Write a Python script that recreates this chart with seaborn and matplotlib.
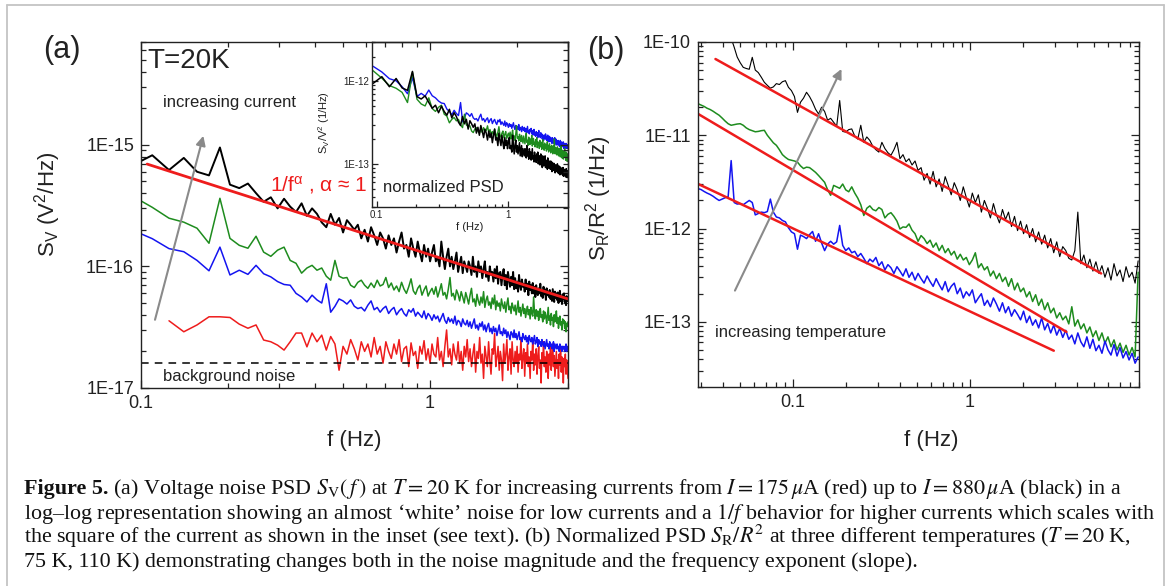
import numpy as np
import matplotlib
matplotlib.use("Agg")
import matplotlib.pyplot as plt
import matplotlib.ticker as mticker
from matplotlib.lines import Line2D
import seaborn as sns

W, H = 1167, 586

# ---------------- panel (a): S_V at T = 20 K
# FFT bins of 1/64 Hz, values in units of 1e-17 V^2/Hz
df_a = 1 / 64
k_first = 6        # first bin of black / green / blue
k_first_red = 8    # red trace starts two bins later

sv_black = [68, 82, 62, 78, 60, 56, 95, 47, 44, 48,
            40, 34, 37, 30, 36, 31, 28, 33, 26, 30,
            27, 23, 21, 27, 22, 25, 19, 24, 22, 20,
            22, 17, 20, 16, 21, 18, 15, 19, 17, 14,
            18, 15, 17, 13, 16, 19, 14, 15, 12, 17,
            14, 12, 16, 13, 11, 15, 12, 14, 11, 13,
            15, 11, 12, 10, 16, 12, 9.5, 12, 14, 10,
            12, 9.5, 11, 13, 9, 10.5, 12, 8.8, 11, 10,
            9, 11, 10, 8.5, 12, 9, 10, 8.2, 11, 9,
            10, 8, 9.5, 11, 8.2, 9, 7.6, 10, 8.5, 9,
            7.5, 9.5, 8, 10, 7.2, 8.8, 9, 7, 8.5, 9.5,
            7, 8.5, 6.5, 9, 7.8, 6.8, 8.2, 7, 9, 6.5,
            8, 6.6, 7.5, 6.2, 8.5, 7, 6.4, 7.8, 6.8, 7.2,
            6.2, 7.8, 6.5, 7.2, 5.8, 7.5, 6.4, 7, 6, 7.3,
            6, 6.8, 5.6, 7, 6.2, 5.8, 6.6, 6, 7.2, 5.7,
            6.3, 5.5, 6.8, 5.9, 6.4, 5.3, 6.6, 5.8, 6.2, 5.6,
            6.4, 5.4, 6, 5.2, 6.5, 5.7, 5.1, 6.2, 5.5, 6,
            5.3, 6.1, 5, 5.8, 6.3, 5.2, 5.6, 4.9, 5.9, 5.4,
            6, 5.1, 5.6, 4.8, 5.7, 5.2, 5.5]

sv_green = [37.7, 30.6, 24.9, 23.1, 20.6, 15.5, 36.3, 17, 14.9, 14.1,
            17.7, 13.1, 12.1, 13.6, 14.4, 11.2, 10.6, 8.8, 9.7, 10.2,
            9.3, 9.7, 8.3, 7.7, 11.2, 8.3, 8, 8.1, 7, 6.7,
            7.4, 7.7, 7, 6.6, 7.3, 6.7, 7.7, 6.9, 7.1, 8.1,
            6.7, 7.3, 6.4, 6.9, 6.2, 7.4, 6.5, 6, 6.8, 7.9,
            6.3, 5.9, 6.6, 7, 5.8, 6.4, 6.9, 5.7, 6.2, 6.6,
            5.9, 6.8, 5.6, 6.3, 7.2, 5.8, 6.1, 5.4, 6.5, 8.1,
            5.7, 6, 5.3, 6.4, 5.9, 5.2, 6.2, 5.6, 5, 6.1,
            5.5, 4.9, 5.8, 6.6, 5.1, 5.4, 4.7, 5.9, 5.2, 4.8,
            5.6, 5, 6.2, 4.6, 5.3, 5.7, 4.8, 5.1, 4.5, 5.5,
            4.9, 5.8, 4.4, 5.2, 4.7, 5, 4.3, 5.4, 4.8, 4.5,
            5.1, 4.2, 4.9, 5.5, 4.4, 4.7, 4.1, 5, 4.6, 4.3,
            4.8, 4, 4.5, 5.2, 4.2, 4.6, 3.9, 4.4, 4.9, 4.1,
            4.5, 3.8, 4.3, 4.7, 4, 4.4, 3.7, 4.6, 4.1, 3.9,
            5.6, 4.2, 3.7, 4.4, 3.9, 4.3, 3.6, 4.1, 4.5, 3.8,
            4, 3.5, 4.3, 3.7, 4.2, 3.9, 3.4, 4, 4.6, 3.6,
            3.9, 3.3, 4.1, 3.6, 3.8, 3.2, 4, 3.5, 3.7, 4.3,
            3.4, 3.8, 3.1, 3.6, 3.9, 3.3, 3.5, 3, 3.7, 3.4,
            3.6, 3.1, 3.5, 2.9, 3.4, 3.2, 3.5]

sv_blue = [19.8, 16.9, 14, 13.2, 11.2, 9.2, 14.4, 8.5, 9.3, 8.6,
           10.2, 8.7, 8.2, 7.5, 7.1, 7, 6, 5.6, 5.1, 5.8,
           5.3, 5, 7.2, 4.2, 4.7, 5.4, 5.2, 4.9, 5.3, 4.7,
           4.5, 4.6, 4.3, 4.8, 5.2, 4.4, 4.6, 4.2, 4.5, 4.7,
           4.1, 4.4, 4.6, 4, 4.3, 4.5, 4.1, 3.9, 4.4, 4.2,
           4.5, 3.9, 4.2, 4, 3.8, 4.3, 3.7, 4.1, 3.9, 3.6,
           4, 3.7, 3.9, 3.5, 3.8, 4.1, 3.6, 3.4, 3.8, 3.5,
           3.7, 3.4, 3.9, 3.3, 3.6, 3.5, 3.2, 3.7, 3.4, 3.3,
           3.6, 3.2, 3.5, 3.1, 3.4, 3.7, 3.1, 3.3, 3, 3.4,
           3.2, 3.5, 3, 3.3, 2.9, 3.2, 3.4, 2.9, 3.1, 2.8,
           3.2, 2.9, 3.1, 2.7, 3, 3.3, 2.8, 2.9, 2.7, 3.1,
           2.8, 3, 2.6, 2.9, 2.7, 2.5, 2.9, 2.8, 2.6, 3,
           2.6, 2.8, 2.5, 2.7, 2.9, 2.5, 2.6, 2.4, 2.8, 2.6,
           2.5, 2.7, 2.4, 2.6, 2.3, 2.7, 2.5, 2.4, 2.6, 2.3,
           2.5, 2.7, 2.3, 2.4, 2.6, 2.2, 2.5, 2.3, 2.4, 2.2,
           2.5, 2.3, 2.2, 2.4, 2.1, 2.3, 2.5, 2.2, 2.3, 2.1,
           2.4, 2.2, 2.3, 2.1, 2.2, 2.4, 2, 2.3, 2.2, 2.1,
           2.3, 2.1, 2.2, 2, 2.3, 2.1, 2.2, 2, 2.2, 2.1,
           2.2, 2, 2.1, 2.3, 2, 2.2, 2.1]

sv_red = [3.57, 2.9, 3.3, 3.85, 3.85, 3.8, 3.35, 3.1, 3.3, 2.48,
          2.4, 2.25, 2.05, 2.4, 2.83, 2.83, 2.18, 2.83, 2.4, 2.72,
          2.05, 2.65, 2.3, 1.4, 2.2, 1.9, 2.5, 2.1, 1.7, 2.4,
          2, 2.3, 1.8, 2.6, 1.9, 2.2, 1.6, 2.4, 2, 1.75,
          2.3, 1.9, 2.5, 1.65, 2.1, 2.2, 1.5, 2.35, 1.85, 2,
          1.45, 2.2, 1.9, 2.45, 1.7, 2.1, 1.6, 2.3, 1.9, 1.8,
          2.6, 1.7, 2, 1.5, 2.2, 3.0, 1.8, 2.1, 1.55, 2.3,
          1.9, 1.7, 2.4, 1.6, 2, 1.4, 2.2, 1.8, 2.5, 1.65,
          2.1, 1.5, 1.9, 2.3, 1.35, 2, 1.75, 2.6, 1.6, 1.9,
          1.2, 2.2, 1.8, 1.5, 2.4, 1.7, 1.3, 2.1, 1.9, 2.8,
          1.5, 1.8, 2.2, 1.4, 2, 1.7, 1.15, 2.3, 1.6, 1.9,
          2.5, 1.4, 1.8, 2.1, 1.3, 2.4, 1.7, 1.5, 2, 1.6,
          2.2, 1.35, 1.9, 1.7, 2.6, 1.45, 1.8, 2.1, 1.25, 1.95,
          1.6, 2.3, 1.5, 1.8, 1.2, 2, 1.7, 2.5, 1.4, 1.9,
          1.55, 2.1, 1.3, 1.8, 2.2, 1.45, 1.7, 1.1, 1.95, 1.6,
          2.4, 1.5, 1.8, 1.35, 2, 1.65, 1.2, 1.9, 1.55, 2.15,
          1.4, 1.75, 2.3, 1.5, 1.85, 1.25, 1.6, 2, 1.45, 1.7,
          1.2, 1.9, 1.55, 2.2, 1.35, 1.8, 1.6, 1.1, 1.75, 1.5,
          1.9, 1.3, 1.7, 1.45, 1.2]

# V^2 of the three highest currents, used for the normalised inset
v2_black = 7.2e-4
v2_green = 2.8e-4
v2_blue = 1.3e-4

# 1/f fit and background level
fit_a_f = [0.105, 3.0]
fit_a_s = [6.94e-16, 5.4e-17]
background = 1.6e-17

# ---------------- panel (b): S_R/R^2, values in units of 1e-14 1/Hz
f_start_b = 0.029
step_b = 1.04          # log-spaced bins
i_first_black_b = 11   # black trace enters from above the frame

sr_black = [11000, 8800, 6900, 6000, 5350, 5200, 5100, 6850, 5000, 4700,
            4190, 3700, 3430, 3200, 3300, 3580, 3500, 3750, 3850, 3270,
            3010, 2600, 1760, 2260, 2500, 2890, 2600, 2260, 1900, 1690,
            2000, 1800, 1450, 1520, 1380, 1250, 2360, 1100, 1080, 1150,
            1170, 980, 910, 1280, 840, 960, 880, 760, 700, 660,
            840, 720, 650, 610, 700, 840, 560, 620, 520, 560,
            480, 530, 420, 450, 330, 390, 300, 410, 280, 340,
            250, 360, 290, 230, 310, 260, 200, 280, 215, 170,
            240, 190, 230, 150, 200, 165, 130, 185, 140, 115,
            160, 125, 150, 105, 135, 95, 120, 88, 110, 80,
            100, 72, 92, 68, 85, 62, 78, 55, 72, 50,
            64, 58, 48, 46, 58, 150, 42, 52, 38, 47,
            35, 44, 33, 40, 30, 38, 28, 42, 31, 36,
            27, 39, 30, 34, 26, 45]

sr_green = [2180, 2110, 2040, 1950, 1890, 1810, 1720, 1640, 1530, 1420,
            1330, 1280, 1300, 1320, 1330, 1280, 1200, 1150, 1120, 1090,
            1100, 1120, 1130, 1000, 910, 830, 780, 700, 620, 580,
            550, 540, 530, 515, 470, 440, 455, 450, 425, 400,
            370, 340, 313, 260, 227, 290, 280, 270, 300, 260,
            248, 280, 240, 212, 180, 138, 165, 175, 160, 155,
            168, 160, 130, 142, 148, 135, 120, 99, 104, 103,
            112, 96, 88, 73, 84, 78, 69, 75, 63, 70,
            58, 66, 55, 61, 52, 57, 47, 53, 46, 49,
            41, 46, 55, 38, 42, 36, 39, 31, 35, 29,
            33, 27, 30, 24, 29, 22, 26, 21, 23, 18.5,
            21, 16.5, 19.5, 15, 17.5, 13.5, 16, 12.5, 14, 11,
            12.5, 10.5, 11.5, 9.5, 14.5, 9, 10.5, 8.4, 9.5, 7.6,
            8.8, 6.9, 8, 6.3, 7.6, 5.9, 6.9, 5.4, 6.4, 5,
            5.9, 4.7, 5.6, 4.4, 5.3, 4.2, 34]

sr_blue = [268, 262, 250, 240, 232, 222, 210, 200, 207, 214,
           220, 535, 190, 183, 185, 180, 190, 200, 190, 140,
           145, 150, 148, 152, 207, 150, 133, 130, 122, 118,
           102, 92, 88, 60, 85, 82, 78, 86, 93, 73,
           88, 70, 58, 68, 73, 68, 72, 108, 66, 58,
           62, 55, 57, 50, 54, 48, 42, 47, 44, 49,
           40, 44, 36, 41, 38, 33, 39, 35, 31, 37,
           30, 34, 28, 33, 29, 26, 31, 27, 24, 29,
           25, 22, 27, 21, 24, 26, 20, 23, 18, 21,
           19, 22, 16, 18, 20, 15, 17, 14.5, 18, 15.5,
           13, 16, 12.5, 14.5, 11.5, 13.5, 12, 10.5, 13, 9.8,
           11.5, 9.2, 10.5, 8.6, 11, 8.2, 9.6, 7.6, 9.2, 7.2,
           8.5, 6.8, 8.1, 6.5, 7.2, 5.8, 7.6, 6.1, 5.4, 6.9,
           5.2, 6.5, 4.9, 5.6, 4.6, 6.2, 5, 4.4, 5.7, 4.3,
           5.3, 4.1, 4.8, 3.9, 4.6, 3.6, 4.2]

# red fit lines (black, green, blue traces)
fit_b_f = [[0.0364, 5.5], [0.0291, 3.5], [0.0291, 2.97]]
fit_b_s = [[6.57e-11, 3.3e-13], [1.69e-11, 7.8e-14], [3.0e-12, 4.9e-14]]

RED = "#ee1c1c"
GREEN = "#1e8c1e"
BLUE = "#1414f0"
GREY = "#8a8a8a"
INK = "#222222"

sns.set_style("ticks")
plt.rcParams['font.family'] = ['Liberation Sans', 'DejaVu Sans']
plt.rcParams['mathtext.fontset'] = 'custom'
plt.rcParams['mathtext.rm'] = 'Liberation Sans'
plt.rcParams['mathtext.it'] = 'Liberation Sans:italic'
plt.rcParams['mathtext.bf'] = 'Liberation Sans:bold'
plt.rcParams['axes.linewidth'] = 1.0

fig = plt.figure(figsize=(W / 100, H / 100), dpi=100)


def box(l, t, r, b):
    return [l / W, 1 - b / H, (r - l) / W, (b - t) / H]


def ftext(x, y, s, **kw):
    return fig.text(x / W, 1 - y / H, s, **kw)


def style_log(ax, size, major=6, minor=3.5, pad=5):
    ax.set_xscale('log')
    ax.set_yscale('log')
    ax.tick_params(which='both', direction='in', top=True, right=True,
                   colors=INK, width=0.9)
    ax.tick_params(which='major', length=major, labelsize=size, pad=pad)
    ax.tick_params(which='minor', length=minor)
    ax.xaxis.set_major_locator(mticker.LogLocator(base=10))
    ax.xaxis.set_minor_locator(mticker.LogLocator(base=10, subs=np.arange(2, 10), numticks=20))
    ax.xaxis.set_major_formatter(mticker.FuncFormatter(lambda v, p: f"{v:g}"))
    ax.xaxis.set_minor_formatter(mticker.NullFormatter())
    ax.yaxis.set_major_locator(mticker.LogLocator(base=10))
    ax.yaxis.set_minor_locator(mticker.LogLocator(base=10, subs=np.arange(2, 10), numticks=20))
    ax.yaxis.set_major_formatter(mticker.FuncFormatter(lambda v, p: "1E%d" % round(np.log10(v))))
    ax.yaxis.set_minor_formatter(mticker.NullFormatter())
    for s in ax.spines.values():
        s.set_color(INK)


def trace(ax, f, s, color, lw):
    sns.lineplot(x=f, y=s, ax=ax, color=color, lw=lw, estimator=None,
                 sort=False, legend=False)


ax_a = fig.add_axes(box(141, 42, 568, 388))
ins = fig.add_axes(box(372, 42, 568, 207))
ax_b = fig.add_axes(box(698, 42, 1139, 387))

# ---------- (a)
style_log(ax_a, 13)
u_a = 1e-17
f_a = (k_first + np.arange(len(sv_black))) * df_a
f_red = (k_first_red + np.arange(len(sv_red))) * df_a
trace(ax_a, f_red, np.array(sv_red) * u_a, RED, 1.1)
trace(ax_a, f_a, np.array(sv_blue) * u_a, BLUE, 1.1)
trace(ax_a, f_a, np.array(sv_green) * u_a, GREEN, 1.1)
trace(ax_a, f_a, np.array(sv_black) * u_a, "black", 1.4)
ax_a.axhline(background, color="black", lw=1.1, ls=(0, (5, 4)))
sns.lineplot(x=fit_a_f, y=fit_a_s, ax=ax_a, color=RED, lw=2.0, estimator=None)
ax_a.annotate("", xy=(0.1643, 1.185e-15), xytext=(0.1118, 3.64e-17),
              arrowprops=dict(arrowstyle="-|>", color=GREY, lw=1.5,
                              mutation_scale=14, shrinkA=0, shrinkB=0))
ax_a.set_xlim(0.1, 3.0)
ax_a.set_ylim(1e-17, 7e-15)
ax_a.set_xlabel("f (Hz)", fontsize=16, color=INK)
ax_a.set_ylabel("S$_\\mathrm{V}$ (V$^2$/Hz)", fontsize=16, color=INK)
ax_a.xaxis.set_label_coords(0.5, -0.122)
ax_a.yaxis.set_label_coords(-0.183, 0.53)
ax_a.set_zorder(2)
ax_a.patch.set_visible(False)

# ---------- inset: normalised PSD
style_log(ins, 7, major=4, minor=2, pad=2)
ins.tick_params(which='both', top=False, right=False)
f_ins = f_a
trace(ins, f_ins, np.array(sv_blue) * u_a / v2_blue, BLUE, 1.0)
trace(ins, f_ins, np.array(sv_green) * u_a / v2_green, GREEN, 1.0)
trace(ins, f_ins, np.array(sv_black) * u_a / v2_black, "black", 1.1)
ins.set_xlim(0.092, 2.9)
ins.set_ylim(3e-14, 3e-12)
ins.set_xlabel("f (Hz)", fontsize=8, color=INK)
ins.set_ylabel("S$_\\mathrm{V}$/V$^2$ (1/Hz)", fontsize=8, color=INK)
ins.xaxis.set_label_coords(0.5, -0.09)
ins.yaxis.set_label_coords(-0.204, 0.51)
ins.set_zorder(1)

# ---------- (b)
style_log(ax_b, 13)
u_b = 1e-14
f_b = f_start_b * step_b ** np.arange(len(sr_blue))
f_b_black = f_start_b * step_b ** (i_first_black_b + np.arange(len(sr_black)))
trace(ax_b, f_b_black, np.array(sr_black) * u_b, "black", 0.8)
trace(ax_b, f_b, np.array(sr_green) * u_b, GREEN, 1.1)
trace(ax_b, f_b, np.array(sr_blue) * u_b, BLUE, 1.1)
for ff, ss in zip(fit_b_f, fit_b_s):
    sns.lineplot(x=ff, y=ss, ax=ax_b, color=RED, lw=1.8, estimator=None)
ax_b.annotate("", xy=(0.1875, 5.14e-11), xytext=(0.0469, 2.16e-13),
              arrowprops=dict(arrowstyle="-|>", color=GREY, lw=1.5,
                              mutation_scale=14, shrinkA=0, shrinkB=0))
ax_b.set_xlim(0.029, 9.0)
ax_b.set_ylim(2e-14, 1e-10)
ax_b.set_xlabel("f (Hz)", fontsize=16, color=INK)
ax_b.set_ylabel("S$_\\mathrm{R}$/R$^2$ (1/Hz)", fontsize=16, color=INK)
ax_b.xaxis.set_label_coords(0.529, -0.124)
ax_b.yaxis.set_label_coords(-0.19, 0.548)

# ---------- annotations
ftext(62, 50, "(a)", fontsize=22, ha="center", va="center", color=INK)
ftext(606, 51, "(b)", fontsize=22, ha="center", va="center", color=INK)
ftext(147, 61, "T=20K", fontsize=20, ha="left", va="center", color=INK)
ftext(163, 102, "increasing current", fontsize=12, ha="left", va="center", color=INK)
ftext(270, 185, "1/f$^{\\mathrm{α}}$ , α ≈ 1", fontsize=15, ha="left", va="center", color=RED)
ftext(163, 377, "background noise", fontsize=12, ha="left", va="center", color=INK)
ftext(383, 187, "normalized PSD", fontsize=12, ha="left", va="center", color=INK)
ftext(715, 332, "increasing temperature", fontsize=12, ha="left", va="center", color=INK)

# ---------- caption
cap_x = 24
cap_right = 1122
cap_base = [494, 518.5, 543, 567.5]
cap_lines = [
    [("Figure 5.", "bold"),
     (" (a) Voltage noise PSD $S_{\\mathrm{V}}(\\,f\\,)$ at $T = 20$ K for increasing currents "
      "from $I = 175\\,\\mu$A (red) up to $I = 880\\,\\mu$A (black) in a", "normal")],
    [("log–log representation showing an almost ‘white’ noise for low currents and a "
      "$1/f$ behavior for higher currents which scales with", "normal")],
    [("the square of the current as shown in the inset (see text). (b) Normalized PSD "
      "$S_{\\mathrm{R}}/R^2$ at three different temperatures ($T = 20$ K,", "normal")],
    [("75 K, 110 K) demonstrating changes both in the noise magnitude and the frequency "
      "exponent (slope).", "normal")],
]

rend = fig.canvas.get_renderer()


def caption_line(y, parts, size):
    x = cap_x
    arts = []
    for txt, weight in parts:
        t = ftext(x, y, txt, fontsize=size, fontweight=weight, family="Liberation Serif",
                  math_fontfamily="stix", ha="left", va="baseline", color="#111111")
        x += t.get_window_extent(renderer=rend).width
        arts.append(t)
    return x, arts


end, tmp = caption_line(cap_base[0], cap_lines[0], 13)
cap_size = 13 * (cap_right - cap_x) / (end - cap_x)
for t in tmp:
    t.remove()
for y, parts in zip(cap_base, cap_lines):
    caption_line(y, parts, cap_size)

# ---------- outer frame
frame = dict(transform=fig.transFigure, color="#c4c4c4", lw=1.3)
fig.add_artist(Line2D([7 / W, 7 / W], [0, 1 - 5 / H], **frame))
fig.add_artist(Line2D([1164 / W, 1164 / W], [0, 1 - 5 / H], **frame))
fig.add_artist(Line2D([7 / W, 1164 / W], [1 - 5 / H, 1 - 5 / H], **frame))

fig.savefig("out.png", dpi=100)
